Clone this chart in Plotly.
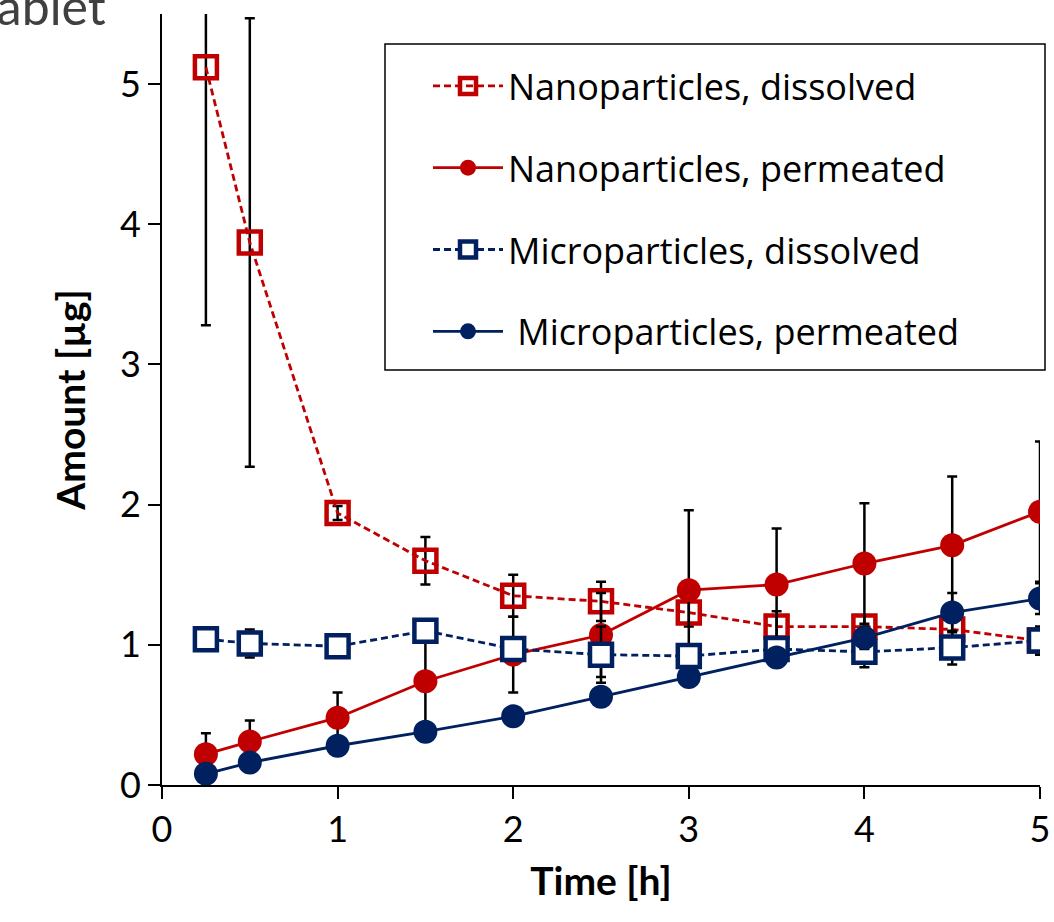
import plotly.graph_objects as go

time_h = [0.25, 0.5, 1, 1.5, 2, 2.5, 3, 3.5, 4, 4.5, 5]

nano_dissolved = [5.12, 3.87, 1.94, 1.60, 1.35, 1.31, 1.23, 1.13, 1.13, 1.11, 1.03]
nano_dissolved_err = [1.84, 1.60, 0.05, 0.17, 0.15, 0.14, 0.10, 0.11, 0.08, 0.08, 0.05]
nano_permeated = [0.22, 0.31, 0.48, 0.74, 0.93, 1.07, 1.39, 1.43, 1.58, 1.71, 1.95]
nano_permeated_err = [0.15, 0.15, 0.18, 0.40, 0.27, 0.30, 0.57, 0.40, 0.43, 0.49, 0.50]
micro_dissolved = [1.04, 1.01, 0.99, 1.10, 0.97, 0.93, 0.92, 0.97, 0.95, 0.98, 1.03]
micro_dissolved_err = [0.03, 0.10, 0.03, 0.05, 0.05, 0.20, 0.08, 0.05, 0.11, 0.12, 0.10]
micro_permeated = [0.08, 0.16, 0.28, 0.38, 0.49, 0.63, 0.77, 0.91, 1.05, 1.23, 1.33]
micro_permeated_err = [0.02, 0.03, 0.05, 0.05, 0.05, 0.05, 0.05, 0.05, 0.08, 0.14, 0.11]

names = ["Nanoparticles, dissolved", "Nanoparticles, permeated",
         "Microparticles, dissolved", " Microparticles, permeated"]

RED = "#C00000"
NAVY = "#002060"
FONT = "Lato"
LEG_FONT = "Open Sans"

W, H = 1054, 922
ML, MR, MT, MB = 162, 14, 14, 137
PW, PH = W - ML - MR, H - MT - MB


def px_x(p):
    return (p - ML) / PW


def px_y(p):
    return (H - MB - p) / PH


def err(a):
    return dict(type="data", array=a, visible=True, color="black", thickness=2.5, width=5)


fig = go.Figure()
fig.add_trace(go.Scatter(
    x=time_h, y=nano_dissolved, name=names[0], mode="lines+markers",
    line=dict(color=RED, width=2.8, dash="7px,4px"),
    marker=dict(symbol="square-open", size=22, color=RED, line=dict(color=RED, width=4.5)),
    error_y=err(nano_dissolved_err), legendgroup="a"))
fig.add_trace(go.Scatter(
    x=time_h, y=nano_permeated, name=names[1], mode="lines+markers",
    line=dict(color=RED, width=2.8),
    marker=dict(symbol="circle", size=24, color=RED),
    error_y=err(nano_permeated_err), legendgroup="b"))
fig.add_trace(go.Scatter(
    x=time_h, y=micro_dissolved, name=names[2], mode="lines+markers",
    line=dict(color=NAVY, width=2.8, dash="7px,4px"),
    marker=dict(symbol="square", size=22, color="white", line=dict(color=NAVY, width=4.5)),
    error_y=err(micro_dissolved_err), legendgroup="c"))
fig.add_trace(go.Scatter(
    x=time_h, y=micro_permeated, name=names[3], mode="lines+markers",
    line=dict(color=NAVY, width=2.8),
    marker=dict(symbol="circle", size=24, color=NAVY),
    error_y=err(micro_permeated_err), legendgroup="d"))

fig.add_shape(type="rect", xref="paper", yref="paper",
              x0=px_x(385), x1=px_x(1045), y0=px_y(370), y1=px_y(44),
              line=dict(color="black", width=1.5), fillcolor="white", layer="below")

fig.add_annotation(text="Tablet", xref="paper", yref="paper",
                   x=px_x(108), y=px_y(6), xanchor="right", yanchor="middle",
                   showarrow=False, font=dict(family=FONT, size=50, color="#404040"))

axis_common = dict(showgrid=False, zeroline=False, showline=True, linecolor="black",
                   linewidth=2, ticks="outside", ticklen=12, tickwidth=2, tickcolor="black",
                   tickfont=dict(family=FONT, size=36, color="black"), automargin=False)

fig.update_layout(
    width=W, height=H,
    margin=dict(l=ML, r=MR, t=MT, b=MB, autoexpand=False),
    paper_bgcolor="white", plot_bgcolor="white",
    font=dict(family=FONT, color="black"),
    xaxis=dict(range=[0, 5], dtick=1, tick0=0,
               title=dict(text="<b>Time [h]</b>", font=dict(family=FONT, size=39, color="black"), standoff=18),
               **axis_common),
    yaxis=dict(range=[0, 5.5], tickvals=[0, 1, 2, 3, 4, 5],
               title=dict(text="<b>Amount [µg]</b>", font=dict(family=FONT, size=39, color="black"), standoff=22),
               **axis_common),
    legend=dict(x=px_x(428), y=px_y(56), xanchor="left", yanchor="top",
                bgcolor="rgba(0,0,0,0)", borderwidth=0,
                font=dict(family=LEG_FONT, size=36, color="black"),
                traceorder="grouped", tracegroupgap=32, itemwidth=70),
    showlegend=True,
)

fig.write_html("out.html")
